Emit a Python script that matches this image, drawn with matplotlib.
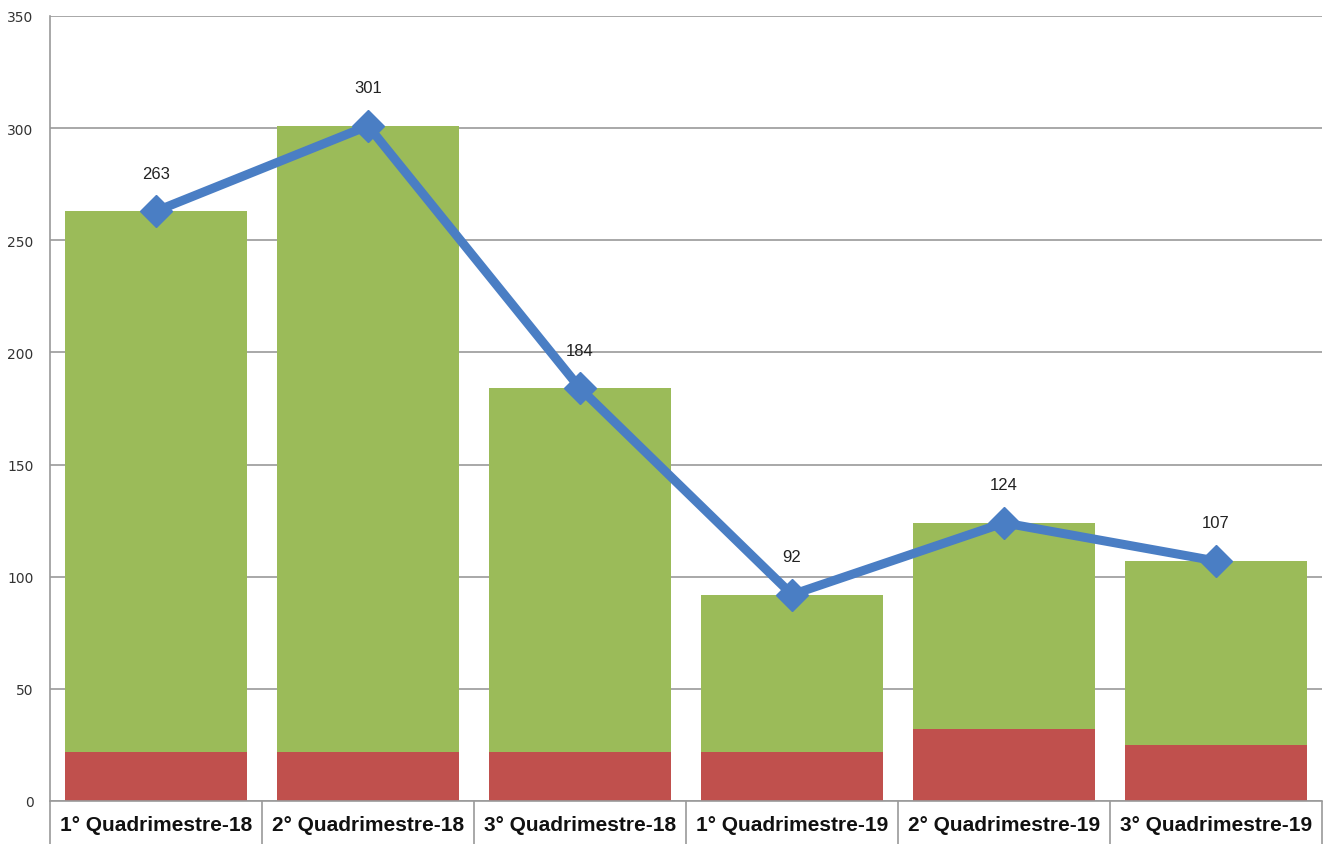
import numpy as np
import matplotlib.pyplot as plt

# dados
categorias = ["1° Quadrimestre-18", "2° Quadrimestre-18", "3° Quadrimestre-18",
              "1° Quadrimestre-19", "2° Quadrimestre-19", "3° Quadrimestre-19"]
totais = [263, 301, 184, 92, 124, 107]
vermelho = [22, 22, 22, 22, 32, 25]

verde = [t - v for t, v in zip(totais, vermelho)]
x = np.arange(len(categorias))

fig = plt.figure(figsize=(13.24, 8.45), dpi=100)
ax = fig.add_axes([0.0378, 0.0509, 0.9607, 0.929])

ax.bar(x, vermelho, width=0.86, color="#C0504D", zorder=2)
ax.bar(x, verde, bottom=vermelho, width=0.86, color="#9BBB59", zorder=2)
ax.plot(x, totais, color="#4A7EC4", linewidth=6.5, marker="D", markersize=16, zorder=3)

for xi, t in zip(x, totais):
    ax.annotate(str(t), (xi, t), xytext=(0, 22), textcoords="offset points",
                ha="center", va="bottom", fontsize=12, family="Liberation Sans", color="#222222")

ax.set_xlim(-0.5, len(categorias) - 0.5)
ax.set_ylim(0, 350)
ax.set_yticks(range(0, 351, 50))
ax.yaxis.grid(True, color="#9a9a9a", linewidth=1.2, zorder=0)
ax.set_axisbelow(True)

ax.set_xticks(x)
ax.set_xticklabels(categorias, fontsize=15, family="Liberation Sans", fontweight="bold", color="#111111")
ax.tick_params(axis="x", which="major", length=0, pad=10)
ax.set_xticks(np.arange(-0.5, len(categorias)), minor=True)
ax.tick_params(axis="x", which="minor", length=42, color="#9a9a9a", width=1.2)
ax.tick_params(axis="y", length=0, labelsize=10, colors="#333333", pad=12)

for lado in ["top", "right"]:
    ax.spines[lado].set_visible(False)
ax.spines["left"].set_color("#9a9a9a")
ax.spines["bottom"].set_color("#9a9a9a")
ax.spines["left"].set_linewidth(1.2)
ax.spines["bottom"].set_linewidth(1.2)

plt.savefig("out.png", dpi=100)
